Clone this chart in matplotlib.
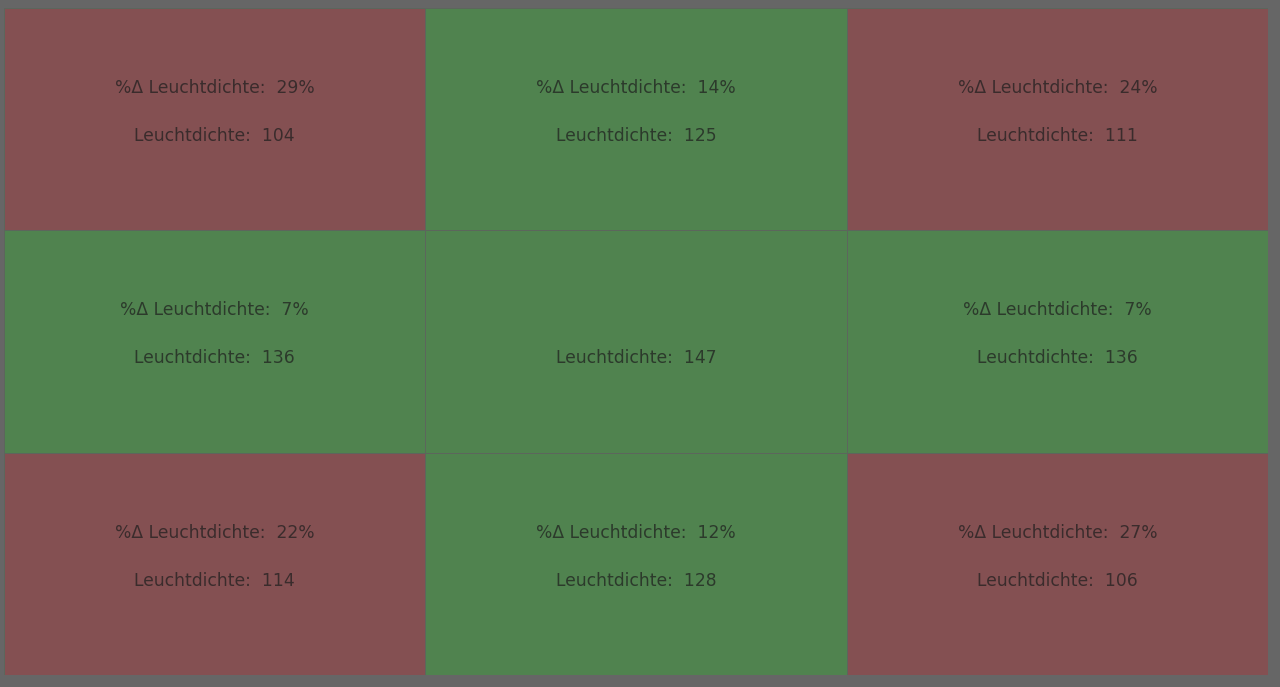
import matplotlib.pyplot as plt
import numpy as np
from matplotlib.colors import ListedColormap

# 3x3 Messfelder (Zeile oben -> unten)
delta_pct = [[29, 14, 24],
             [7, None, 7],
             [22, 12, 27]]
leuchtdichte = [[104, 125, 111],
                [136, 147, 136],
                [114, 128, 106]]
grenzwert = 15  # % Abweichung, ab der ein Feld rot wird

status = np.array([[1 if (d is not None and d > grenzwert) else 0 for d in row]
                   for row in delta_pct])

fig = plt.figure(figsize=(12.8, 6.87), dpi=100)
fig.patch.set_facecolor("#666666")

ax = fig.add_axes([4 / 1280, 1 - 675 / 687, 1264 / 1280, 667 / 687])
cmap = ListedColormap(["#50834f", "#845052"])
ax.pcolormesh(status, cmap=cmap, vmin=0, vmax=1,
              edgecolors="#5c665c", linewidth=0.5)
ax.set_xlim(0, 3)
ax.set_ylim(3, 0)
ax.axis("off")

for i in range(3):
    for j in range(3):
        txt = dict(ha="center", va="center", fontsize=12.3,
                   color="#1e1e1e", alpha=0.72, family="DejaVu Sans")
        if delta_pct[i][j] is not None:
            ax.text(j + 0.5, i + 0.36, "%\u0394 Leuchtdichte:  {}%".format(delta_pct[i][j]), **txt)
        ax.text(j + 0.5, i + 0.575, "Leuchtdichte:  {}".format(leuchtdichte[i][j]), **txt)

fig.savefig("out.png", dpi=100, facecolor=fig.get_facecolor())
